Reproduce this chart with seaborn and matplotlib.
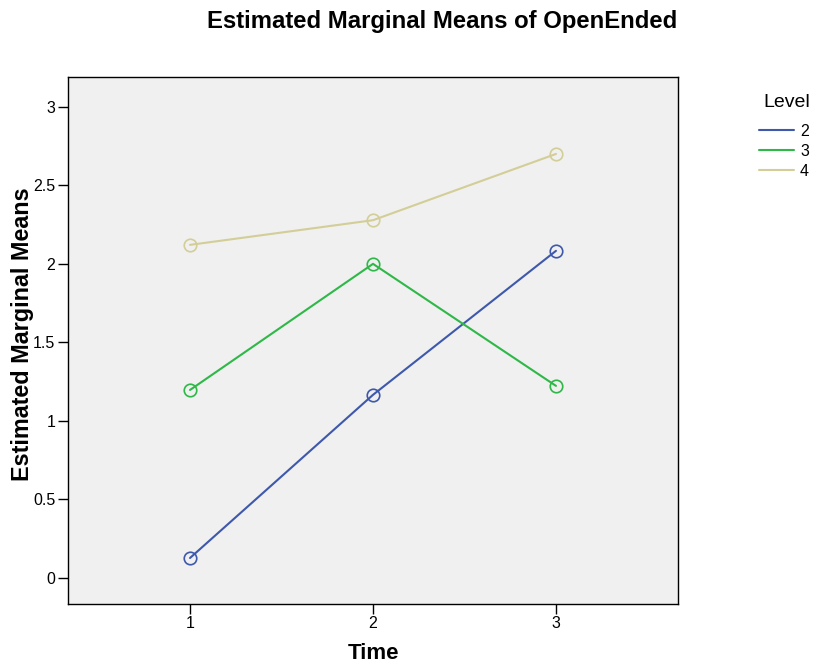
import pandas as pd
import matplotlib.pyplot as plt
import seaborn as sns
from matplotlib.lines import Line2D

# data
times = [1, 2, 3]
level2 = [0.127, 1.166, 2.083]
level3 = [1.197, 2.000, 1.223]
level4 = [2.121, 2.278, 2.700]
levels = ['2', '3', '4']

df = pd.DataFrame({
    'Time': times * 3,
    'Mean': level2 + level3 + level4,
    'Level': [lv for lv in levels for _ in times],
})

palette = {'2': '#3E58AC', '3': '#2EB848', '4': '#D3CE97'}

sns.set_style('ticks')
plt.rcParams['font.family'] = ['Liberation Sans', 'DejaVu Sans']
plt.rcParams['text.color'] = 'black'
plt.rcParams['axes.labelcolor'] = 'black'
plt.rcParams['xtick.color'] = 'black'
plt.rcParams['ytick.color'] = 'black'

fig = plt.figure(figsize=(8.17, 6.66), dpi=100)
ax = fig.add_axes([0.0832, 0.0931, 0.7467, 0.7913])
ax.set_facecolor('#F0F0F0')

sns.lineplot(data=df, x='Time', y='Mean', hue='Level', palette=palette,
             marker='o', markersize=9, linewidth=1.5, legend=False, ax=ax)
for ln in ax.get_lines():
    ln.set_markerfacecolor('none')
    ln.set_markeredgecolor(ln.get_color())
    ln.set_markeredgewidth(1.2)

ax.set_xlim(0.333, 3.667)
ax.set_ylim(-0.166, 3.19)
ax.set_xticks(times)
ax.set_xticklabels(['1', '2', '3'])
ax.set_yticks([0, 0.5, 1, 1.5, 2, 2.5, 3])
ax.set_yticklabels(['0', '0.5', '1', '1.5', '2', '2.5', '3'])
ax.tick_params(labelsize=11.5, direction='out', length=7, width=1, pad=2)
for s in ax.spines.values():
    s.set_color('black')
    s.set_linewidth(1)

ax.set_xlabel('Time', fontsize=16, fontweight='bold')
ax.set_ylabel('Estimated Marginal Means', fontsize=16.8, fontweight='bold')
ax.xaxis.set_label_coords(0.5, -0.093)
ax.yaxis.set_label_coords(-0.074, 0.512)
ax.xaxis.label.set_va('center')
ax.yaxis.label.set_va('center')
fig.text(0.541, 0.968, 'Estimated Marginal Means of OpenEnded',
         ha='center', va='center', fontsize=17.2, fontweight='bold')

# legend title drawn separately to match the gap above the entries
fig.text(0.991, 0.846, 'Level', ha='right', va='center', fontsize=14)
handles = [Line2D([0], [0], color=palette[lv], lw=1.5) for lv in levels]
leg = fig.legend(handles, levels, loc='upper right',
                 bbox_to_anchor=(1.004, 0.831), frameon=False, fontsize=11.5,
                 handlelength=2.2, handletextpad=0.4,
                 labelspacing=0.32, borderpad=0.2)

plt.savefig('out.png', dpi=100)
